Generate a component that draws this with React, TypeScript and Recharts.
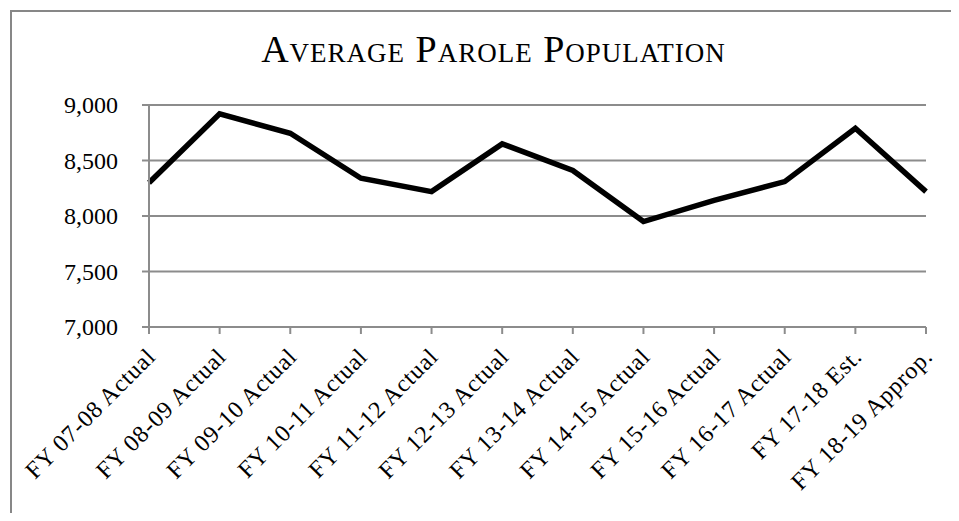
import React from "react";
import { CartesianGrid, Line, LineChart, XAxis, YAxis } from "recharts";

const years = [
  "FY 07-08 Actual",
  "FY 08-09 Actual",
  "FY 09-10 Actual",
  "FY 10-11 Actual",
  "FY 11-12 Actual",
  "FY 12-13 Actual",
  "FY 13-14 Actual",
  "FY 14-15 Actual",
  "FY 15-16 Actual",
  "FY 16-17 Actual",
  "FY 17-18 Est.",
  "FY 18-19 Approp.",
];
const population = [8300, 8920, 8745, 8340, 8220, 8650, 8410, 7950, 8140, 8310, 8790, 8220];
const yTicks = [7000, 7500, 8000, 8500, 9000];

const data = years.map((year, i) => ({ year, population: population[i] }));

const FONT = "'Liberation Serif', 'Times New Roman', serif";
const GRID = "#8c8c8c";
const CHART_H = 521;
const X_AXIS_H = 194;
const Y_AXIS_W = 149;
const PLOT_BOTTOM = CHART_H - X_AXIS_H;

function SlantTick(props) {
  const { x, payload } = props;
  const ax = x + 8;
  const ay = PLOT_BOTTOM + 31;
  return (
    <text
      x={ax}
      y={ay}
      transform={`rotate(-45, ${ax}, ${ay})`}
      textAnchor="end"
      fontFamily={FONT}
      fontSize={24}
      letterSpacing={0.8}
      fill="#000"
    >
      {payload.value}
    </text>
  );
}

function ValueTick(props) {
  const { y, payload } = props;
  return (
    <text x={Y_AXIS_W - 31} y={y} dy="0.35em" textAnchor="end" fontFamily={FONT} fontSize={24} fill="#000">
      {Number(payload.value).toLocaleString("en-US")}
    </text>
  );
}

function App() {
  return (
    <div style={{ position: "relative", margin: -8, width: 959, height: 521, overflow: "hidden", background: "#fff" }}>
      <div
        style={{
          position: "absolute",
          left: 10,
          top: 10,
          width: 1000,
          height: 600,
          border: "2px solid #878787",
        }}
      />
      <div
        style={{
          position: "absolute",
          left: 0,
          top: 30,
          width: 987,
          textAlign: "center",
          fontFamily: FONT,
          fontSize: 38,
          lineHeight: 1,
          fontVariant: "small-caps",
          letterSpacing: 1,
          color: "#000",
        }}
      >
        Average Parole Population
      </div>
      <div style={{ position: "absolute", left: 0, top: 0 }}>
        <LineChart width={959} height={CHART_H} data={data} margin={{ top: 105, right: 33, left: 0, bottom: 0 }}>
          <CartesianGrid vertical={false} stroke={GRID} strokeWidth={2} />
          <XAxis
            dataKey="year"
            height={X_AXIS_H}
            interval={0}
            stroke={GRID}
            strokeWidth={2}
            tickSize={7}
            tick={<SlantTick />}
          />
          <YAxis
            width={Y_AXIS_W}
            domain={[7000, 9000]}
            ticks={yTicks}
            interval={0}
            stroke={GRID}
            strokeWidth={2}
            tickSize={7}
            tick={<ValueTick />}
          />
          <Line
            dataKey="population"
            stroke="#000"
            strokeWidth={5.5}
            dot={false}
            isAnimationActive={false}
          />
        </LineChart>
      </div>
    </div>
  );
}

export default App;
